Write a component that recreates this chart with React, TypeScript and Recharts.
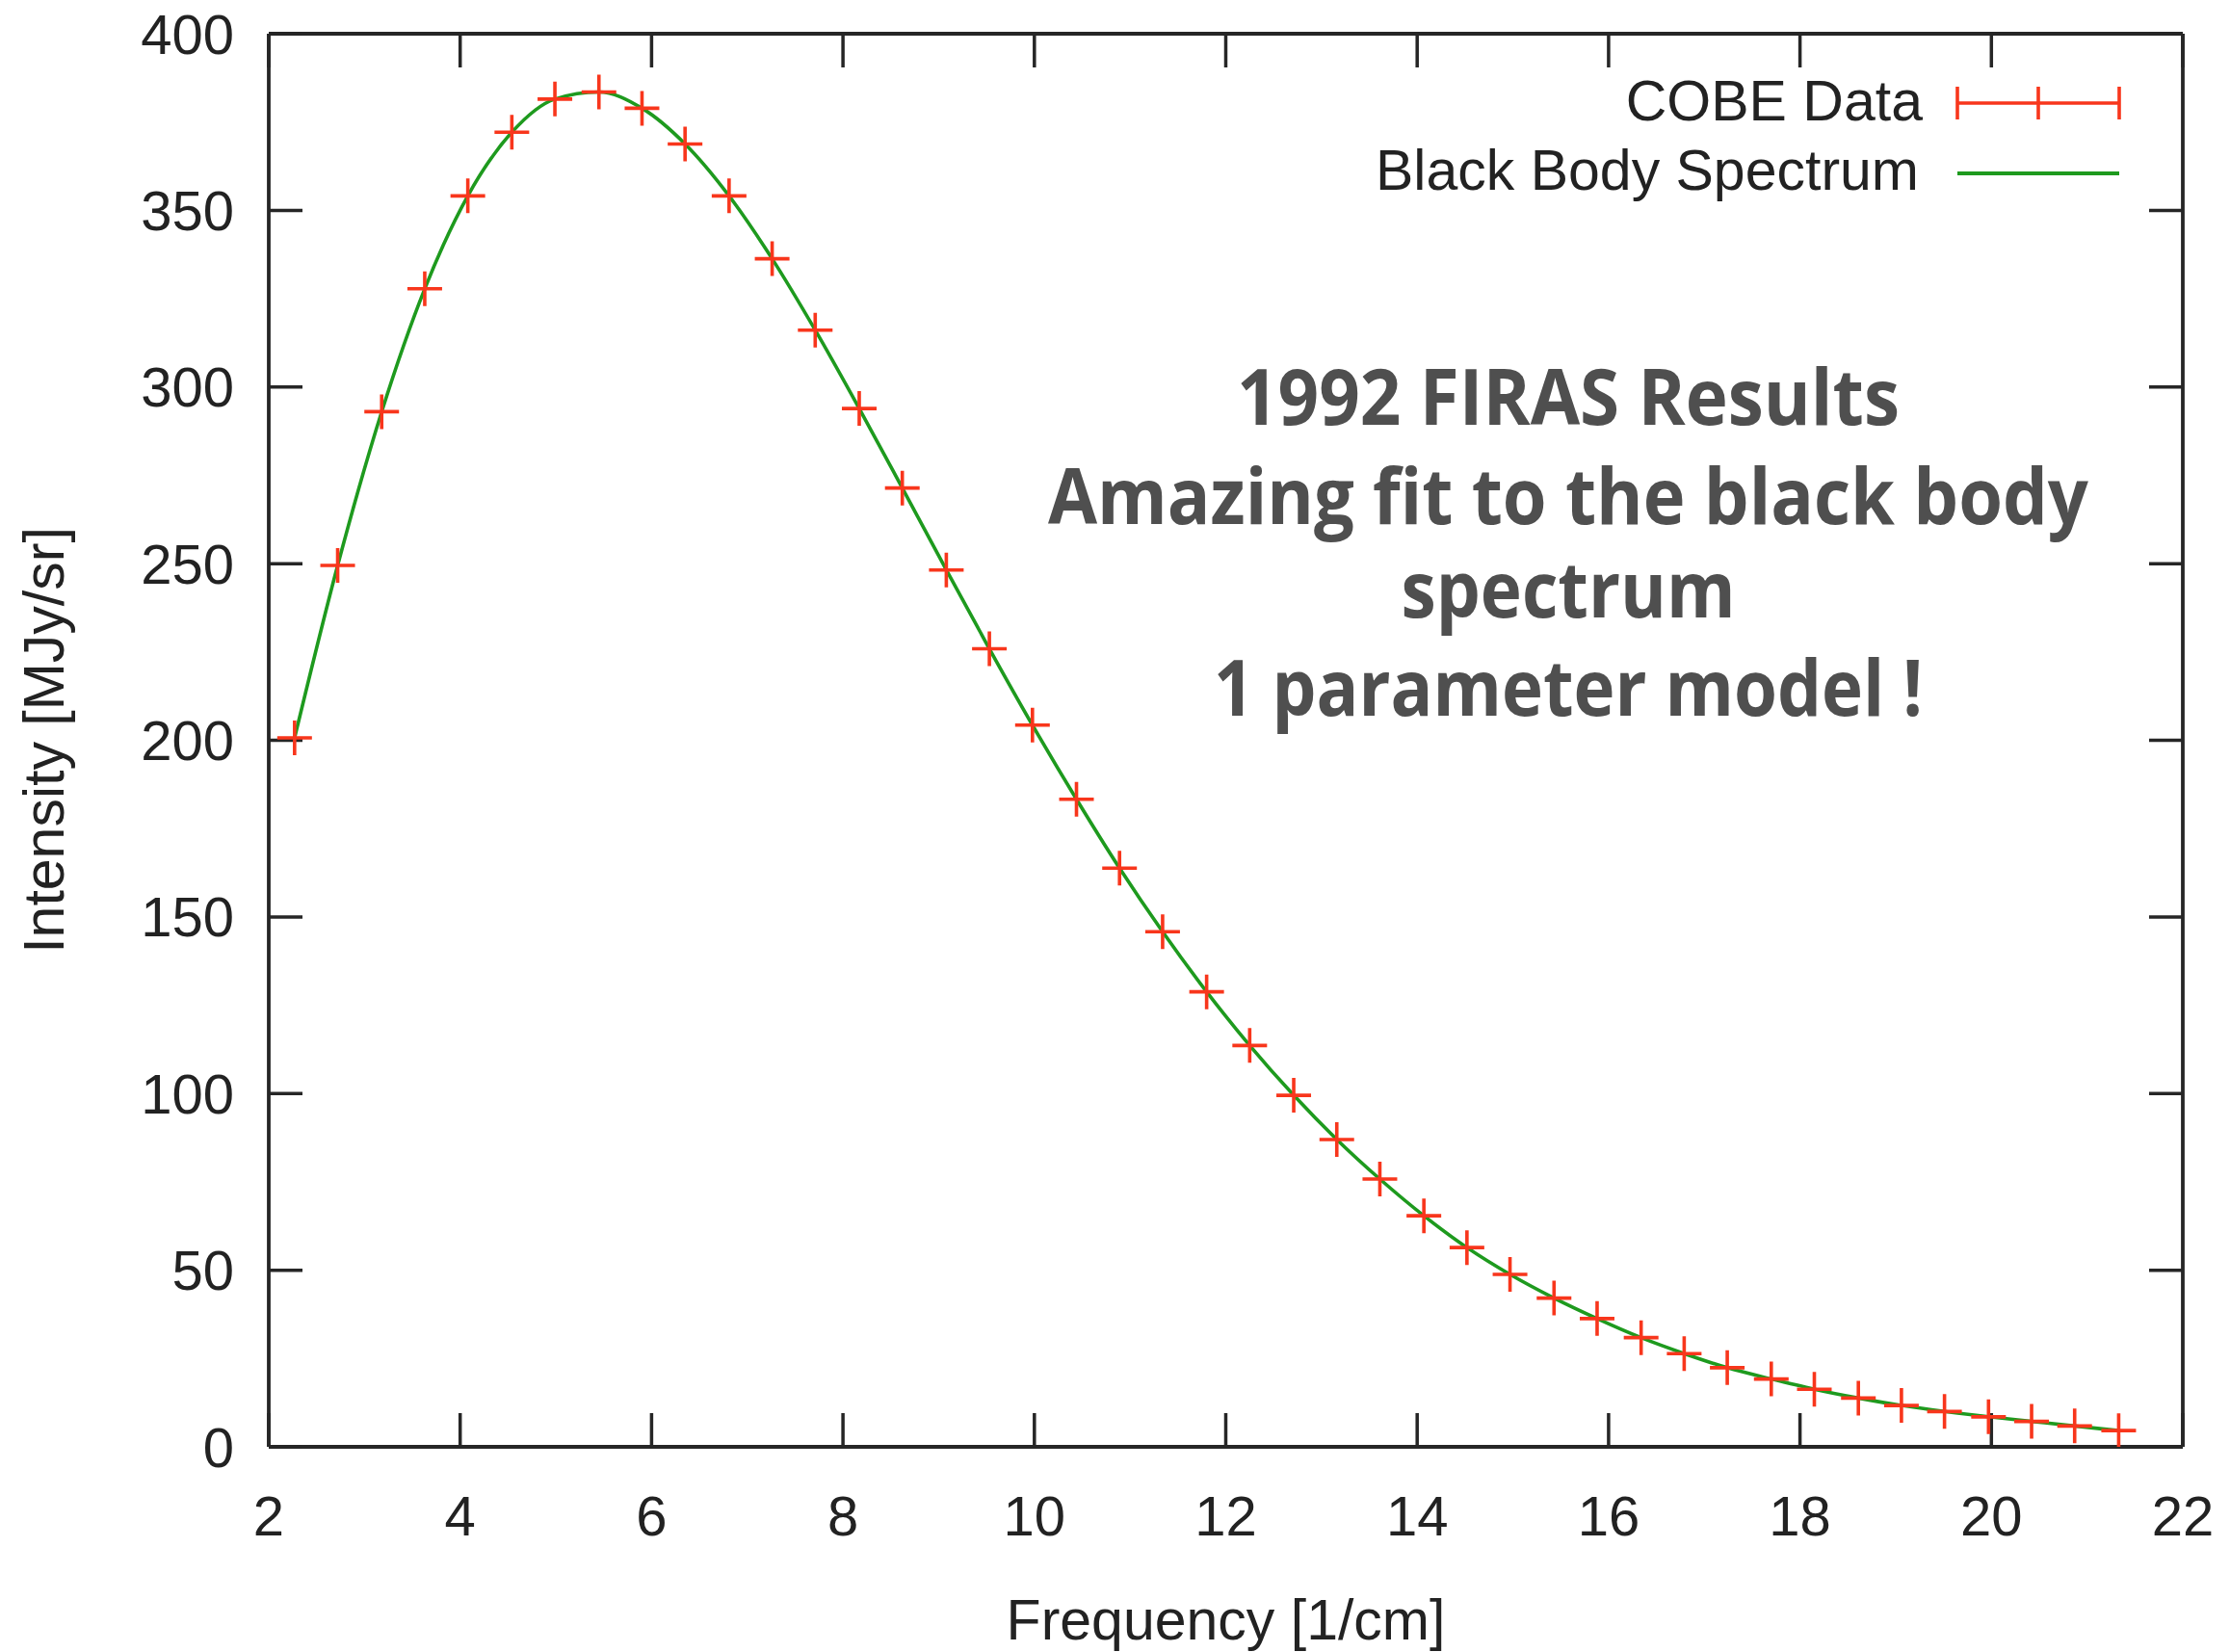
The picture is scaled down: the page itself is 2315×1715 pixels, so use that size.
import React from 'react';
import { ComposedChart, Line, Scatter, XAxis, YAxis, Legend, Label } from 'recharts';

// ---- data ----
const frequency = [
  2.27, 2.72, 3.18, 3.63, 4.08, 4.54, 4.99, 5.45, 5.9, 6.35, 6.81, 7.26, 7.71, 8.17, 8.62,
  9.08, 9.53, 9.98, 10.44, 10.89, 11.34, 11.8, 12.25, 12.71, 13.16, 13.61, 14.07, 14.52, 14.97,
  15.43, 15.88, 16.34, 16.79, 17.24, 17.7, 18.15, 18.61, 19.06, 19.51, 19.97, 20.42, 20.87, 21.33,
];
const cobeIntensity = [
  200.7, 249.5, 293.0, 327.8, 354.1, 372.1, 381.5, 383.5, 378.9, 368.8, 354.1, 336.3, 316.1, 293.9, 271.4,
  248.2, 225.9, 204.3, 183.3, 163.8, 145.8, 128.8, 113.6, 99.5, 87.0, 75.8, 65.4, 56.4, 48.8,
  42.1, 36.3, 30.9, 26.4, 22.4, 19.2, 16.3, 13.8, 11.7, 10.0, 8.5, 7.2, 5.9, 4.6,
];
const blackBodyIntensity = [
  200.7, 249.5, 293.0, 327.8, 354.1, 372.1, 381.5, 383.5, 378.9, 368.8, 354.1, 336.3, 316.1, 293.9, 271.4,
  248.2, 225.9, 204.3, 183.3, 163.8, 145.8, 128.8, 113.6, 99.5, 87.0, 75.8, 65.4, 56.4, 48.8,
  42.1, 36.3, 30.9, 26.4, 22.4, 19.2, 16.3, 13.8, 11.7, 10.0, 8.5, 7.2, 5.9, 4.6,
];
const xTicks = [2, 4, 6, 8, 10, 12, 14, 16, 18, 20, 22];
const yTicks = [0, 50, 100, 150, 200, 250, 300, 350, 400];
const seriesNames = ['COBE Data', 'Black Body Spectrum'];
const axisTitles = { x: 'Frequency [1/cm]', y: 'Intensity [MJy/sr]' };
const annotationLines = ['1992 FIRAS Results', 'Amazing fit to the black body', 'spectrum', '1 parameter model !'];

// ---- styling / layout ----
const W = 2315;
const H = 1715;
const FRAME = '#262626';
const RED = '#f8361c';
const GREEN = '#1e9a1e';
const FONT = '"Liberation Sans", Arial, sans-serif';
const annoLayout = { cx: 1628, baselines: [441, 544, 641, 743], widths: [688, 1080, 347, 736], fontSize: 80 };

const data = frequency.map((f, i) => ({ f, cobe: cobeIntensity[i], bb: blackBodyIntensity[i] }));

const Cross = (props: any) => {
  const { cx, cy } = props;
  if (cx == null || cy == null || isNaN(cx) || isNaN(cy)) return null;
  const s = 18;
  return (
    <path
      d={`M${cx - s},${cy}H${cx + s}M${cx},${cy - s}V${cy + s}`}
      stroke={RED}
      strokeWidth={3.6}
      fill="none"
    />
  );
};

const EmptyTick = () => <g />;

const XTitle = (props: any) => {
  const vb = props.viewBox || {};
  return (
    <text
      x={vb.x + vb.width / 2}
      y={vb.y + 200}
      textAnchor="middle"
      fontFamily={FONT}
      fontSize={59}
      fill="#222"
    >
      {axisTitles.x}
    </text>
  );
};

const YTitle = (props: any) => {
  const vb = props.viewBox || {};
  const x = vb.x + 66;
  const y = vb.y + vb.height / 2;
  return (
    <text
      x={x}
      y={y}
      transform={`rotate(-90, ${x}, ${y})`}
      textAnchor="middle"
      fontFamily={FONT}
      fontSize={59}
      fill="#222"
    >
      {axisTitles.y}
    </text>
  );
};

const LegendContent = () => (
  <svg width={860} height={170} style={{ overflow: 'visible' }}>
    <text x={616} y={70} textAnchor="end" fontFamily={FONT} fontSize={59} fill="#222">
      {seriesNames[0]}
    </text>
    <path d="M652,52H820M652,35V69M820,35V69M736,35V69" stroke={RED} strokeWidth={3.6} fill="none" />
    <text x={612} y={142} textAnchor="end" fontFamily={FONT} fontSize={59} fill="#222">
      {seriesNames[1]}
    </text>
    <path d="M652,125H820" stroke={GREEN} strokeWidth={3.8} fill="none" />
  </svg>
);

const tickStyle = { fontSize: 58, fill: '#222', fontFamily: FONT };
const innerTickLine = { stroke: FRAME, strokeWidth: 3.5 };
const frameLine = { stroke: FRAME, strokeWidth: 3.8 };

export default function App() {
  return (
    <div style={{ position: 'absolute', left: 0, top: 0, width: W, height: H, background: '#fff' }}>
      <ComposedChart width={W} height={H} data={data} margin={{ top: 35, right: 49, bottom: 0, left: 0 }}>
        <XAxis
          xAxisId="x"
          type="number"
          dataKey="f"
          domain={[2, 22]}
          ticks={xTicks}
          interval={0}
          allowDataOverflow
          height={213}
          tickLine={false}
          tickSize={0}
          tickMargin={51}
          axisLine={frameLine}
          tick={tickStyle}
        >
          <Label content={XTitle} />
        </XAxis>
        <XAxis
          xAxisId="xb"
          type="number"
          dataKey="f"
          orientation="bottom"
          mirror
          domain={[2, 22]}
          ticks={xTicks}
          interval={0}
          allowDataOverflow
          tick={EmptyTick}
          tickSize={35}
          tickLine={innerTickLine}
          axisLine={false}
        />
        <XAxis
          xAxisId="xt"
          type="number"
          dataKey="f"
          orientation="top"
          mirror
          domain={[2, 22]}
          ticks={xTicks}
          interval={0}
          allowDataOverflow
          tick={EmptyTick}
          tickSize={35}
          tickLine={innerTickLine}
          axisLine={frameLine}
        />
        <YAxis
          yAxisId="y"
          type="number"
          domain={[0, 400]}
          ticks={yTicks}
          interval={0}
          allowDataOverflow
          width={279}
          tickLine={false}
          tickSize={0}
          tickMargin={36}
          axisLine={frameLine}
          tick={tickStyle}
        >
          <Label content={YTitle} />
        </YAxis>
        <YAxis
          yAxisId="yl"
          type="number"
          orientation="left"
          mirror
          domain={[0, 400]}
          ticks={yTicks}
          interval={0}
          allowDataOverflow
          tick={EmptyTick}
          tickSize={35}
          tickLine={innerTickLine}
          axisLine={false}
        />
        <YAxis
          yAxisId="yr"
          type="number"
          orientation="right"
          mirror
          domain={[0, 400]}
          ticks={yTicks}
          interval={0}
          allowDataOverflow
          tick={EmptyTick}
          tickSize={35}
          tickLine={innerTickLine}
          axisLine={frameLine}
        />
        <Scatter
          xAxisId="x"
          yAxisId="y"
          dataKey="cobe"
          name={seriesNames[0]}
          shape={Cross}
          isAnimationActive={false}
        />
        <Line
          xAxisId="x"
          yAxisId="y"
          dataKey="bb"
          name={seriesNames[1]}
          type="monotone"
          stroke={GREEN}
          strokeWidth={3.6}
          dot={false}
          activeDot={false}
          isAnimationActive={false}
        />
        <Legend
          layout="vertical"
          align="center"
          verticalAlign="middle"
          wrapperStyle={{ position: 'absolute', left: 1380, top: 55, width: 860, height: 170 }}
          content={LegendContent}
        />
      </ComposedChart>
      <svg
        width={W}
        height={H}
        style={{ position: 'absolute', left: 0, top: 0, pointerEvents: 'none' }}
      >
        {annotationLines.map((t, i) => (
          <text
            key={i}
            x={annoLayout.cx}
            y={annoLayout.baselines[i]}
            textAnchor="middle"
            textLength={annoLayout.widths[i]}
            lengthAdjust="spacingAndGlyphs"
            fontFamily='"Open Sans", "Noto Sans", sans-serif'
            fontWeight={700}
            fontSize={annoLayout.fontSize}
            fill="#4f4f4f"
          >
            {t}
          </text>
        ))}
      </svg>
    </div>
  );
}
